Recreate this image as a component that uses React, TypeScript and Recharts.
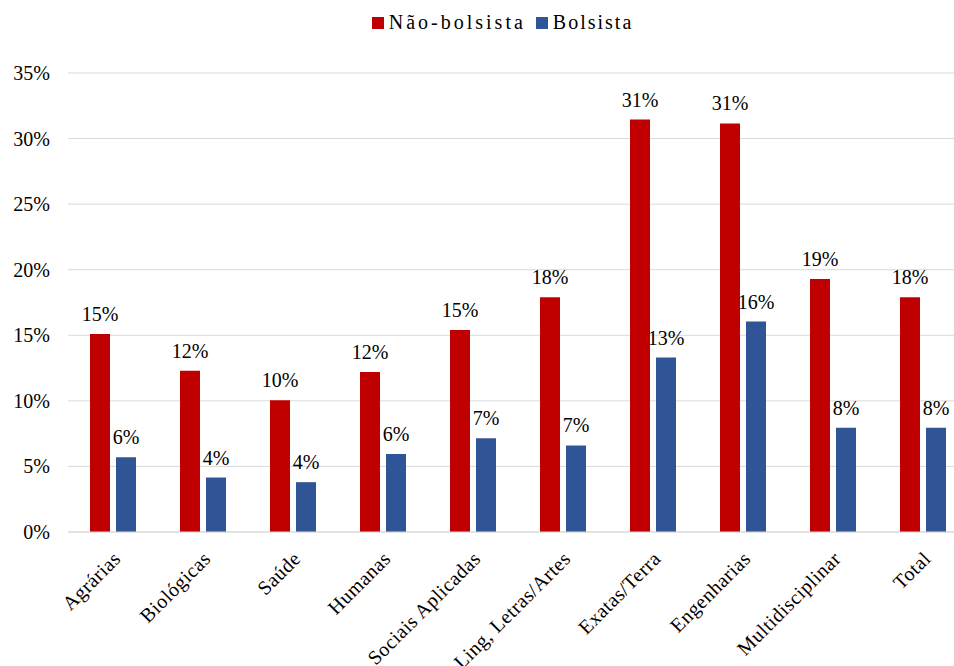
import React from 'react';
import { BarChart, Bar, XAxis, YAxis, CartesianGrid, Legend, LabelList } from 'recharts';

// Áreas de conhecimento
const areas = [
  'Agrárias',
  'Biológicas',
  'Saúde',
  'Humanas',
  'Sociais Aplicadas',
  'Ling, Letras/Artes',
  'Exatas/Terra',
  'Engenharias',
  'Multidisciplinar',
  'Total',
];

// values in %
const naoBolsista = [15.1, 12.3, 10.05, 12.2, 15.4, 17.9, 31.45, 31.15, 19.3, 17.9];
const bolsista = [5.7, 4.15, 3.8, 5.95, 7.15, 6.6, 13.3, 16.05, 7.95, 7.95];

const yTicks = [0, 5, 10, 15, 20, 25, 30, 35];

const data = areas.map((area, i) => ({
  area,
  naoBolsista: naoBolsista[i],
  bolsista: bolsista[i],
}));

const FONT = '"Liberation Serif", "Times New Roman", serif';
const RED = '#C00000';
const BLUE = '#2F5597';

const series = [
  { key: 'naoBolsista', name: 'Não-bolsista', color: RED, spacing: 3 },
  { key: 'bolsista', name: 'Bolsista', color: BLUE, spacing: 2 },
];

const AreaTick = (props: any) => {
  const { x, y, payload } = props;
  return (
    <g transform={`translate(${x + 4},${y + 9})`}>
      <text
        x={0}
        y={0}
        dy="0.35em"
        textAnchor="end"
        transform="rotate(-45)"
        style={{ fontFamily: FONT, fontSize: 20, letterSpacing: 0.5 }}
        fill="#000"
      >
        {payload.value}
      </text>
    </g>
  );
};

const PctTick = (props: any) => {
  const { x, y, payload } = props;
  return (
    <text x={x} y={y} dy="0.35em" textAnchor="end" style={{ fontFamily: FONT, fontSize: 20 }} fill="#000">
      {`${payload.value}%`}
    </text>
  );
};

const BarLabel = (props: any) => {
  const { x, y, width, value } = props;
  return (
    <text
      x={x + width / 2}
      y={y - 13}
      textAnchor="middle"
      style={{ fontFamily: FONT, fontSize: 20 }}
      fill="#000"
    >
      {`${Math.round(Number(value))}%`}
    </text>
  );
};

const LegendContent = () => (
  <div
    style={{
      display: 'flex',
      justifyContent: 'center',
      alignItems: 'center',
      fontFamily: FONT,
      fontSize: 20,
      color: '#000',
      paddingLeft: 47,
    }}
  >
    {series.map((s) => (
      <div key={s.key} style={{ display: 'flex', alignItems: 'center', marginRight: 10 }}>
        <span style={{ display: 'inline-block', width: 12, height: 12, background: s.color, marginRight: 5 }} />
        <span style={{ fontFamily: FONT, letterSpacing: s.spacing }}>{s.name}</span>
      </div>
    ))}
  </div>
);

const App = () => {
  return (
    <div
      style={{
        position: 'absolute',
        left: 0,
        top: 0,
        width: 954,
        height: 666,
        overflow: 'hidden',
        background: '#fff',
        fontFamily: FONT,
      }}
    >
      <BarChart
        width={980}
        height={666}
        data={data}
        margin={{ top: 50, right: 12, left: 0, bottom: 0 }}
        barSize={20}
        barGap={6}
      >
        <CartesianGrid vertical={false} stroke="#D9D9D9" />
        <XAxis
          dataKey="area"
          interval={0}
          height={134}
          tickLine={false}
          axisLine={{ stroke: '#D9D9D9' }}
          tick={<AreaTick />}
          tickMargin={8}
        />
        <YAxis
          width={68}
          domain={[0, 35]}
          ticks={yTicks}
          axisLine={false}
          tickLine={false}
          tickMargin={12}
          tick={<PctTick />}
        />
        <Legend verticalAlign="top" align="center" wrapperStyle={{ top: 11 }} content={<LegendContent />} />
        {series.map((s) => (
          <Bar key={s.key} dataKey={s.key} name={s.name} fill={s.color} isAnimationActive={false}>
            <LabelList dataKey={s.key} content={<BarLabel />} />
          </Bar>
        ))}
      </BarChart>
    </div>
  );
};

export default App;
